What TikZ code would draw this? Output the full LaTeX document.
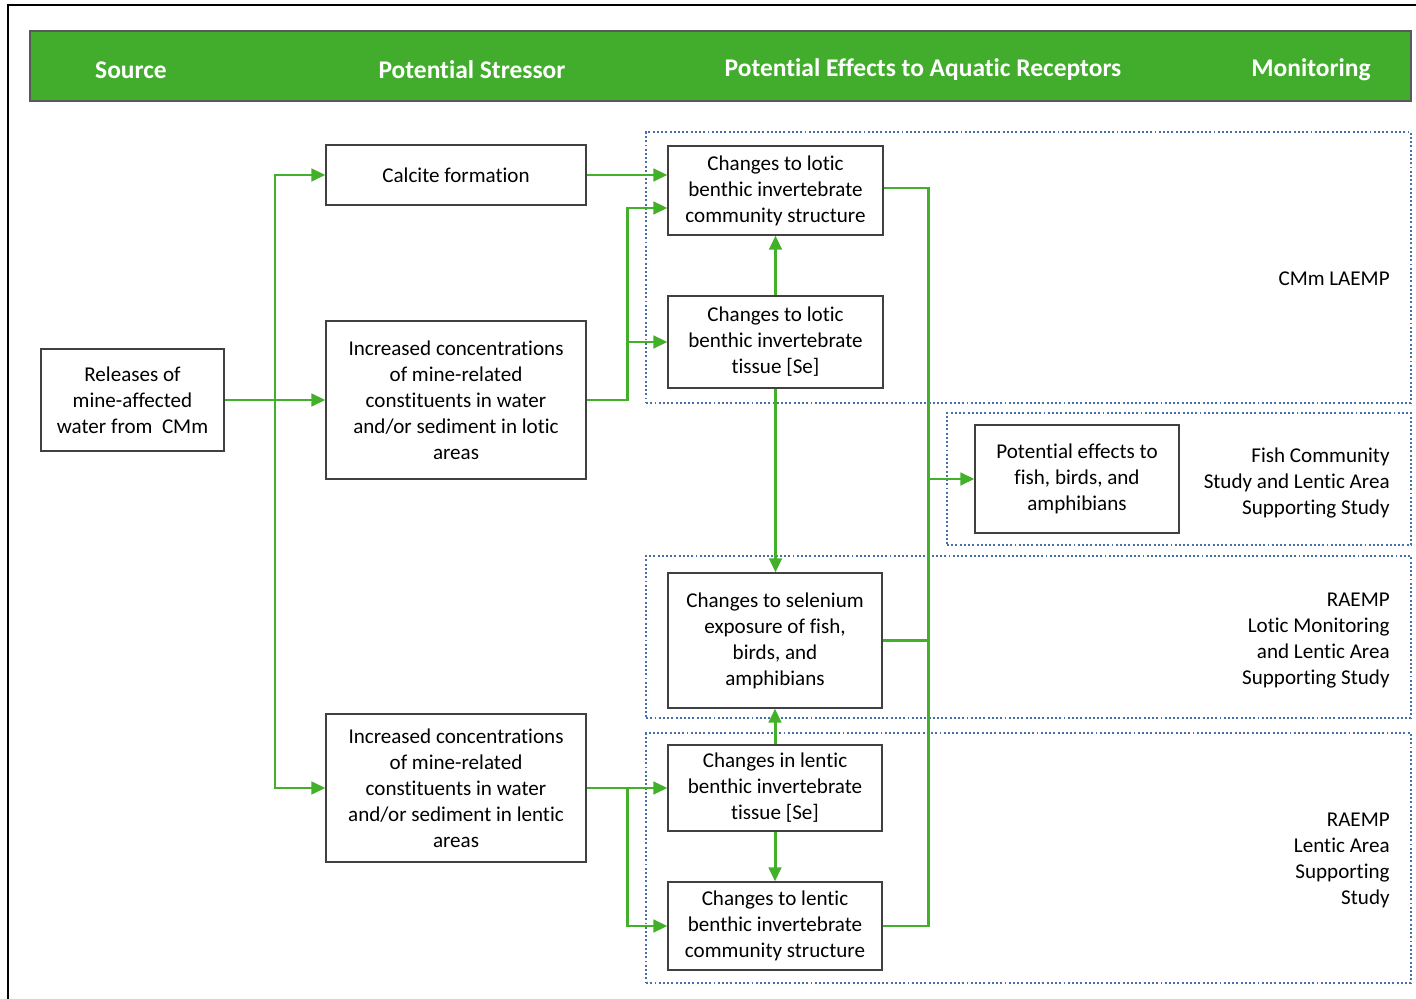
\documentclass[tikz,border=0pt]{standalone}
\usepackage{fontspec}
\setmainfont{Carlito}[Ligatures=NoCommon]
\usepackage{xcolor}
\usepackage{tikz}
\usetikzlibrary{arrows.meta, calc}

\definecolor{flowgreen}{RGB}{67,176,42}
\definecolor{bandgreen}{RGB}{66,173,44}
\definecolor{zoneblue}{RGB}{70,112,172}

\begin{document}
\begin{tikzpicture}[
    x=0.02cm, y=-0.02cm,
    box/.style={rectangle, draw=black!75, line width=0.7pt, fill=white, align=center, inner sep=2pt, font=\fontsize{12}{14.8}\selectfont},
    band/.style={rectangle, draw=black!65, line width=0.9pt, fill=bandgreen, minimum width=27.62cm, minimum height=1.4cm},
    bandtext/.style={text=white, font=\fontsize{14.5}{17}\selectfont\bfseries},
    zone/.style={rectangle, draw=zoneblue, line width=1.1pt, dash pattern=on 1.1pt off 1.3pt, inner sep=0pt},
    monlabel/.style={anchor=east, align=right, inner sep=0pt, font=\fontsize{12}{14.8}\selectfont},
    link/.style={draw=flowgreen, line width=1.7pt},
    flow/.style={link, -{Triangle[length=0.28cm, width=0.25cm]}},
  ]
    \useasboundingbox (0,0) rectangle (1416,999);

    % Frame
    \draw[line width=1.2pt] (8,999) -- (8,5) -- (1416,5);

    % Header
    \node[band] (hdr) at (720.5,66) {};
    \node[bandtext] (hsrc) at (131,70) {Source};
    \node[bandtext] (hstr) at (472,70) {Potential Stressor};
    \node[bandtext] (heff) at (923,70) {Potential Effects to Aquatic Receptors};
    \node[bandtext] (hmon) at (1311,70) {Monitoring};

    % Monitoring zones
    \node[zone, minimum width=15.3cm, minimum height=5.42cm] (zlaemp) at (1028.5,267.5) {};
    \node[zone, minimum width=9.28cm, minimum height=2.64cm] (zfish) at (1179,479) {};
    \node[zone, minimum width=15.3cm, minimum height=3.24cm] (zlotic) at (1028.5,637) {};
    \node[zone, minimum width=15.3cm, minimum height=5.0cm] (zlentic) at (1028.5,858) {};

    \node[monlabel] (mlaemp) at (1390,279) {CMm LAEMP};
    \node[monlabel] (mfish) at (1390,483) {Fish Community\\Study and Lentic Area\\Supporting Study};
    \node[monlabel] (mlotic) at (1390,641) {RAEMP\\Lotic Monitoring\\and Lentic Area\\Supporting Study};
    \node[monlabel] (mlentic) at (1390,860) {RAEMP\\Lentic Area\\Supporting\\Study};

    % Source
    \node[box, minimum width=3.66cm, minimum height=2.04cm] (src) at (132.5,400) {Releases of\\mine-affected\\water from~ CMm};

    % Stressors
    \node[box, minimum width=5.2cm, minimum height=1.2cm] (calcite) at (456,175) {Calcite formation};
    \node[box, minimum width=5.2cm, minimum height=3.16cm] (lotic) at (456,400) {Increased concentrations\\of mine-related\\constituents in water\\and/or sediment in lotic\\areas};
    \node[box, minimum width=5.2cm, minimum height=2.96cm] (lentic) at (456,788) {Increased concentrations\\of mine-related\\constituents in water\\and/or sediment in lentic\\areas};

    % Effects
    \node[box, minimum width=4.3cm, minimum height=1.78cm] (lcomm) at (775.5,190.5) {Changes to lotic\\benthic invertebrate\\community structure};
    \node[box, minimum width=4.3cm, minimum height=1.84cm] (ltiss) at (775.5,342) {Changes to lotic\\benthic invertebrate\\tissue [Se]};
    \node[box, minimum width=4.08cm, minimum height=2.16cm] (fish) at (1077,479) {Potential effects to\\fish, birds, and\\amphibians};
    \node[box, minimum width=4.28cm, minimum height=2.7cm] (sel) at (775,640.5) {Changes to selenium\\exposure of fish,\\birds, and\\amphibians};
    \node[box, minimum width=4.28cm, minimum height=1.72cm] (ntiss) at (775,788) {Changes in lentic\\benthic invertebrate\\tissue [Se]};
    \node[box, minimum width=4.28cm, minimum height=1.76cm] (ncomm) at (775,926) {Changes to lentic\\benthic invertebrate\\community structure};

    % Junctions
    \coordinate (busl) at (275,0);
    \coordinate (busm) at (627,0);
    \coordinate (busr) at (928,0);

    % Source to stressors
    \draw[flow] (src.east) -- (lotic.west);
    \draw[flow] (src.east -| busl) |- (calcite.west);
    \draw[flow] (src.east -| busl) |- (lentic.west);

    % Stressors to effects
    \draw[flow] (calcite.east) -- (calcite.east -| lcomm.west);
    \draw[flow] (lotic.east) -- (lotic.east -| busm) |- ($(lcomm.west)+(0,17.5)$);
    \draw[flow] (lotic.east -| busm) |- (ltiss.west);
    \draw[flow] (lentic.east) -- (ntiss.west);
    \draw[flow] (lentic.east -| busm) |- (ncomm.west);

    % Between effects
    \draw[flow] (ltiss.north) -- (lcomm.south);
    \draw[flow] (ltiss.south) -- (ltiss.south |- sel.north);
    \draw[flow] (ntiss.north) -- (sel.south);
    \draw[flow] (ntiss.south) -- (ncomm.north);

    % To fish, birds and amphibians
    \draw[link] ($(lcomm.east)+(0,-2.5)$) -- ($(lcomm.east -| busr)+(0,-2.5)$) -- (ncomm.east -| busr) -- (ncomm.east);
    \draw[link] (sel.east) -- (sel.east -| busr);
    \draw[flow] (fish.west -| busr) -- (fish.west);

  \end{tikzpicture}
\end{document}
